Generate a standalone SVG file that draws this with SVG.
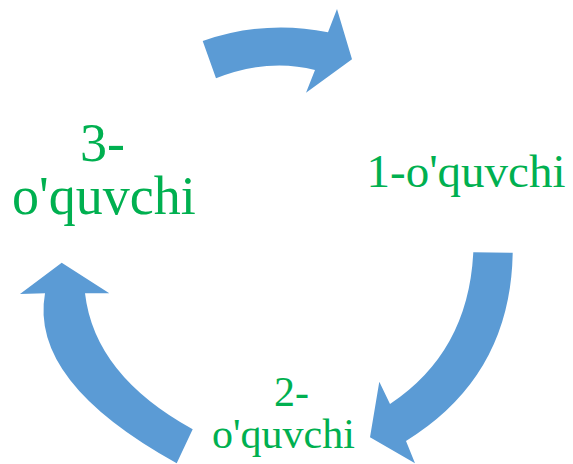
<svg xmlns="http://www.w3.org/2000/svg" width="573" height="464" viewBox="0 0 573 464">
<style>
.arrow{fill:#5B9BD5;stroke:none}
.lbl{font-family:"Liberation Serif","Times New Roman",serif;fill:#00B050}
</style>
<rect width="573" height="464" fill="#ffffff"/>
<g id="connectors">
<path id="arrow-top" class="arrow" d="M202.7,41 Q264.7,19.4 328,32.3 L337,9 L352,59.3 L306,92.7 L315,70 Q268,57.9 216,78.3 Z"/>
<path id="arrow-right" class="arrow" d="M473.3,252.3 L512.7,252.7 Q510.7,376.6 406,441 L415,463.3 L370,437.3 L379.3,381.7 L390,404 Q468.4,351.9 473.3,252.3 Z"/>
<path id="arrow-left" class="arrow" d="M61.7,262.7 L109.3,293.3 L85,293.3 Q94.5,375.3 192.7,429.3 L176.7,463.3 Q29.2,381.7 45,293.3 L20,294 Z"/>
</g>
<g id="node1">
<text class="lbl" x="366.5" y="187" font-size="47">1-o'quvchi</text>
</g>
<g id="node2">
<text class="lbl" x="274" y="405.5" font-size="42">2-</text>
<text class="lbl" x="212" y="448" font-size="42">o'quvchi</text>
</g>
<g id="node3">
<text class="lbl" x="80" y="161" font-size="54">3-</text>
<text class="lbl" x="12" y="214" font-size="54">o'quvchi</text>
</g>
</svg>
